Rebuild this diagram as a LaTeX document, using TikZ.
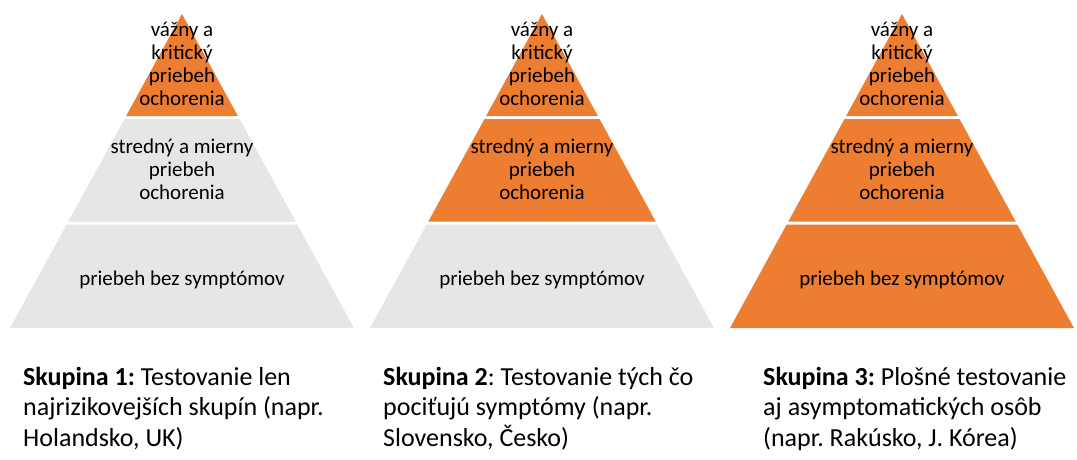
\documentclass[tikz,border=0pt]{standalone}
\usepackage{fontspec}
\setmainfont{Carlito}
\frenchspacing
\definecolor{offorange}{HTML}{ED7D31}
\definecolor{offgray}{HTML}{E7E6E6}
\tikzset{
  tiertext/.style={inner sep=0pt, anchor=north, align=center, font=\fontsize{21}{23}\selectfont\frenchspacing, text=black},
  captext/.style={inner sep=0pt, anchor=north west, align=left, font=\fontsize{26}{30.5}\selectfont\frenchspacing, text=black},
}
\newcommand\tstrut{\rule{0pt}{17pt}}
\newcommand\cstrut{\rule{0pt}{22pt}}
\newcommand\drawpyramid[5]{%
  \fill[#3] (#2,14) -- (#2+55.9,116) -- (#2-55.9,116) -- cycle;
  \fill[#4] (#2-57.5,119) -- (#2+57.5,119) -- (#2+113.7,221.5) -- (#2-113.7,221.5) -- cycle;
  \fill[#5] (#2-115.3,224.5) -- (#2+115.3,224.5) -- (#2+172,328) -- (#2-172,328) -- cycle;
  \node[tiertext] (#1top) at (#2,19) {\tstrut vážny a\\kritický\\priebeh\\ochorenia};
  \node[tiertext] (#1mid) at (#2,136) {\tstrut stredný a mierny\\priebeh\\ochorenia};
  \node[tiertext] (#1bot) at (#2,268) {\tstrut priebeh bez symptómov};
}
\begin{document}
\begin{tikzpicture}[x=1pt,y=-1pt]
  \useasboundingbox (0,0) rectangle (1077,459);
  \drawpyramid{pa}{182}{offorange}{offgray}{offgray}
  \drawpyramid{pb}{542}{offorange}{offorange}{offgray}
  \drawpyramid{pc}{902}{offorange}{offorange}{offorange}
  \node[captext] (capa) at (23,363) {\cstrut\textbf{Skupina 1:} Testovanie len\\najrizikovejších skupín (napr.\\Holandsko, UK)};
  \node[captext] (capb) at (383,363) {\cstrut\textbf{Skupina 2}: Testovanie tých čo\\pociťujú symptómy (napr.\\Slovensko, Česko)};
  \node[captext] (capc) at (763,363) {\cstrut\textbf{Skupina 3:} Plošné testovanie\\aj asymptomatických osôb\\(napr. Rakúsko, J. Kórea)};
\end{tikzpicture}
\end{document}
